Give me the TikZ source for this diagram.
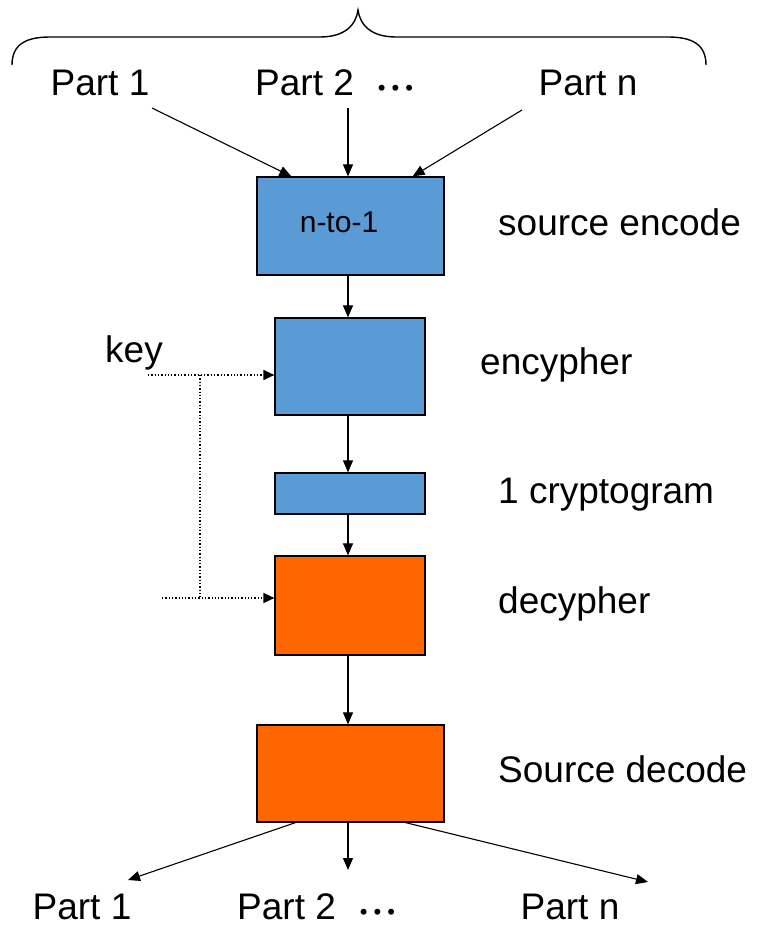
\documentclass[tikz,border=0pt]{standalone}
\usepackage{fontspec}
\setmainfont{Liberation Sans}
\usetikzlibrary{arrows.meta,calc}
\definecolor{boxblue}{HTML}{5B9BD5}
\definecolor{boxorange}{HTML}{FF6600}
\begin{document}
\begin{tikzpicture}[x=1pt,y=-1pt,
  lbl/.style={font=\fontsize{37}{40}\selectfont, inner sep=0pt},
  blk/.style={draw=black, line width=1.2pt, inner sep=0pt},
  bluebox/.style={blk, fill=boxblue},
  orangebox/.style={blk, fill=boxorange},
  arr/.style={line width=1.1pt, -{Triangle[length=12pt,width=10pt]}},
  dotarr/.style={line width=1.3pt, dotted, -{Triangle[length=11pt,width=10pt]}},
  dotln/.style={line width=1.3pt, dotted}]
\useasboundingbox (0,0) rectangle (758,928);
% brace
\draw[line width=1.4pt] (12,65) .. controls (12,45) and (25,37) .. (50,37) -- (320,37)
  .. controls (345,37) and (356,25) .. (358,10)
  .. controls (360,25) and (371,37) .. (396,37) -- (668,37)
  .. controls (693,37) and (706,45) .. (706,65);
% top labels
\node[lbl, anchor=base] (p1) at (100,96) {Part 1};
\node[lbl, anchor=base west] (p2) at (255,96) {Part 2\hspace{24pt}{\fontsize{22}{22}\selectfont •\hspace{6pt}•\hspace{6pt}•}};
\node[lbl, anchor=base] (pn) at (588,96) {Part n};
% boxes
\node[bluebox, minimum width=187pt, minimum height=98pt] (b1) at (350.5,226) {};
\node[font=\fontsize{30}{32}\selectfont, inner sep=0pt, anchor=base] (n1) at (339,232) {n-to-1};
\node[bluebox, minimum width=150pt, minimum height=97pt] (b2) at (350,366.5) {};
\node[bluebox, minimum width=150pt, minimum height=41pt] (b3) at (350,493.5) {};
\node[orangebox, minimum width=150pt, minimum height=99pt] (b4) at (350,605.5) {};
\node[orangebox, minimum width=187pt, minimum height=97pt] (b5) at (350.5,773.5) {};
% side labels
\node[lbl, anchor=base west] (l1) at (498,235) {source encode};
\node[lbl, anchor=base west] (l2) at (480,374) {encypher};
\node[lbl, anchor=base west] (l3) at (498,503) {1 cryptogram};
\node[lbl, anchor=base west] (l4) at (498,613) {decypher};
\node[lbl, anchor=base west] (l5) at (498,782) {Source decode};
\node[lbl, anchor=base west] (key) at (105,362) {key};
% top arrows
\coordinate (s1) at (152,108);
\coordinate (s2) at (348,108);
\coordinate (s3) at (522,110);
\draw[arr] (s1) -- ($(b1.north west)+(35,0)$);
\draw[arr] (s2) -- (s2 |- b1.north);
\draw[arr] (s3) -- ($(b1.north east)+(-32,0)$);
% vertical arrows
\draw[arr] (b1.south -| 348,0) -- (b2.north -| 348,0);
\draw[arr] (b2.south -| 348,0) -- (b3.north -| 348,0);
\draw[arr] (b3.south -| 348,0) -- (b4.north -| 348,0);
\draw[arr] (b4.south -| 348,0) -- (b5.north -| 348,0);
% key lines
\coordinate (k1) at (148,375);
\coordinate (k2) at (162,598);
\coordinate (j1) at (200,375);
\coordinate (j2) at (200,598);
\draw[dotarr] (k1) -- (k1 -| b2.west);
\draw[dotarr] (k2) -- (k2 -| b4.west);
\draw[dotln] (j1) -- (j2);
% bottom labels
\node[lbl, anchor=base] (q1) at (82,919) {Part 1};
\node[lbl, anchor=base west] (q2) at (237,919) {Part 2\hspace{24pt}{\fontsize{22}{22}\selectfont •\hspace{6pt}•\hspace{6pt}•}};
\node[lbl, anchor=base] (qn) at (570,919) {Part n};
% bottom arrows
\coordinate (e1) at (128,880);
\coordinate (e2) at (348,870);
\coordinate (e3) at (648,882);
\draw[arr] ($(b5.south)+(-55,0)$) -- (e1);
\draw[arr] (b5.south -| 348,0) -- (e2);
\draw[arr] ($(b5.south)+(55,0)$) -- (e3);
\end{tikzpicture}
\end{document}
